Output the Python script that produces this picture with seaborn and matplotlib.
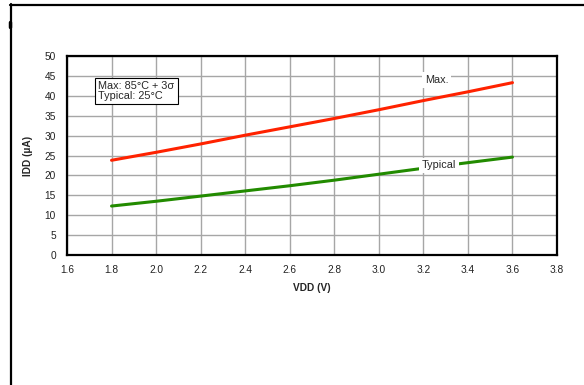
import matplotlib
matplotlib.use("Agg")
import matplotlib.pyplot as plt
from matplotlib.lines import Line2D
import seaborn as sns
import pandas as pd

vdd = [1.8, 2.0, 2.2, 2.4, 2.6, 2.8, 3.0, 3.2, 3.4, 3.6]
idd_max = [23.8, 25.8, 27.9, 30.1, 32.2, 34.3, 36.5, 38.8, 41.0, 43.3]
idd_typ = [12.3, 13.5, 14.8, 16.1, 17.4, 18.8, 20.3, 21.8, 23.2, 24.6]
series_names = ["Max.", "Typical"]
x_ticks = [1.6, 1.8, 2.0, 2.2, 2.4, 2.6, 2.8, 3.0, 3.2, 3.4, 3.6, 3.8]
y_ticks = [0, 5, 10, 15, 20, 25, 30, 35, 40, 45, 50]

df = pd.DataFrame({
    "VDD": vdd * 2,
    "IDD": idd_max + idd_typ,
    "series": [series_names[0]] * len(vdd) + [series_names[1]] * len(vdd),
})

sns.set_style("white")
plt.rcParams["font.family"] = ["Liberation Sans", "DejaVu Sans"]

fig = plt.figure(figsize=(5.84, 3.85), dpi=100)
ax = fig.add_axes([67 / 584, 1 - 255 / 385, 490 / 584, 199 / 385])

sns.lineplot(data=df, x="VDD", y="IDD", hue="series",
             palette={"Max.": "#ff2200", "Typical": "#228b00"},
             linewidth=2.2, legend=False, ax=ax, zorder=3)

ax.set_xlim(1.6, 3.8)
ax.set_ylim(0, 50)
ax.set_xticks(x_ticks)
ax.set_xticklabels([f"{t:.1f}" for t in x_ticks])
ax.set_yticks(y_ticks)
ax.set_yticklabels([str(t) for t in y_ticks])
ax.grid(True, color="#a6a6a6", linewidth=1.0, zorder=0)
ax.set_axisbelow(True)
for s in ax.spines.values():
    s.set_color("black")
    s.set_linewidth(1.6)
    s.set_visible(True)
ax.tick_params(axis="both", length=0, labelsize=7.3, colors="#222222")
ax.tick_params(axis="x", pad=7)
ax.tick_params(axis="y", pad=8)

ax.set_xlabel("VDD (V)", fontsize=7.3, fontweight="bold", labelpad=6)
ax.set_ylabel("IDD (µA)", fontsize=7.3, fontweight="bold", labelpad=8)

ax.text(1.74, 41.2, "Max: 85°C + 3σ\nTypical: 25°C", fontsize=7.8, va="center", ha="left",
        linespacing=1.05,
        bbox=dict(boxstyle="square,pad=0.3", facecolor="white", edgecolor="black", linewidth=0.8),
        zorder=5)
ax.text(3.26, 44.0, "Max.", fontsize=7.8, ha="center", va="center",
        bbox=dict(boxstyle="square,pad=0.25", facecolor="white", edgecolor="none"), zorder=5)
ax.text(3.27, 22.5, "Typical", fontsize=7.8, ha="center", va="center",
        bbox=dict(boxstyle="square,pad=0.25", facecolor="white", edgecolor="none"), zorder=5)

# figure frame lines
fig.add_artist(Line2D([10 / 584, 1.0], [1 - 4.5 / 385, 1 - 4.5 / 385], color="black", linewidth=1.6))
fig.add_artist(Line2D([11 / 584, 11 / 584], [0, 1 - 4 / 385], color="black", linewidth=1.6))
fig.add_artist(Line2D([10 / 584, 10 / 584], [1 - 22 / 385, 1 - 27 / 385], color="black", linewidth=2.5))

fig.savefig("out.png", dpi=100)
